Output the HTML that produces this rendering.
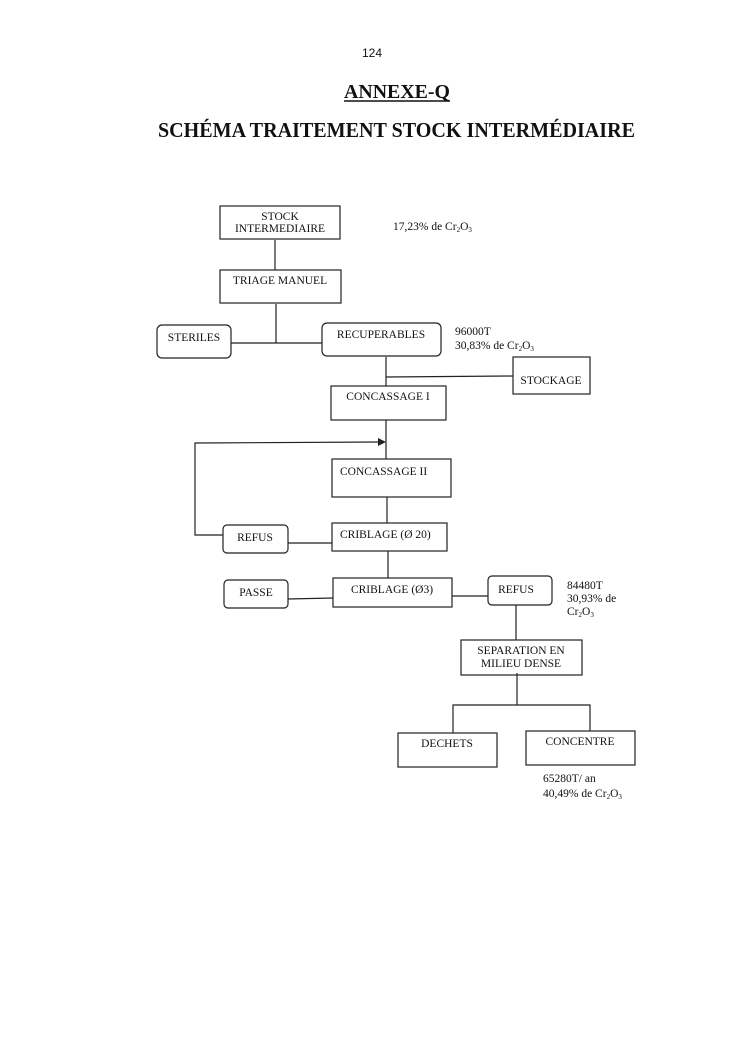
<!DOCTYPE html>
<html><head><meta charset="utf-8"><style>
html,body{margin:0;padding:0;background:#fff;}
svg{display:block;}
text{font-family:"Liberation Serif",serif;fill:#111;}
</style></head><body>
<svg width="745" height="1053" viewBox="0 0 745 1053" xmlns="http://www.w3.org/2000/svg">
<text x="372" y="57" font-family="Liberation Sans" style="font-family:'Liberation Sans',sans-serif" font-size="12" text-anchor="middle">124</text>
<text x="344" y="98" font-size="20" font-weight="bold" textLength="106" lengthAdjust="spacingAndGlyphs">ANNEXE-Q</text>
<line x1="344" y1="101" x2="450" y2="101" stroke="#111" stroke-width="1.5"/>
<text x="158" y="137" font-size="21.5" font-weight="bold" textLength="477" lengthAdjust="spacingAndGlyphs">SCHÉMA TRAITEMENT STOCK INTERMÉDIAIRE</text>

<g fill="none" stroke="#222" stroke-width="1.2">
<rect x="220" y="206" width="120" height="33"/>
<line x1="275" y1="240" x2="275" y2="270"/>
<rect x="220" y="270" width="121" height="33"/>
<line x1="276" y1="304" x2="276" y2="343"/>
<rect x="157" y="325" width="74" height="33" rx="5"/>
<line x1="231" y1="343" x2="322" y2="343"/>
<rect x="322" y="323" width="119" height="33" rx="5"/>
<line x1="386" y1="357" x2="386" y2="386"/>
<line x1="386" y1="377" x2="513" y2="376"/>
<rect x="513" y="357" width="77" height="37"/>
<rect x="331" y="386" width="115" height="34"/>
<line x1="386" y1="420" x2="386" y2="459"/>
<polyline points="380,442 195,443 195,535 223,535"/>
<rect x="332" y="459" width="119" height="38"/>
<line x1="387" y1="497" x2="387" y2="523"/>
<rect x="332" y="523" width="115" height="28"/>
<rect x="223" y="525" width="65" height="28" rx="4"/>
<line x1="288" y1="543" x2="332" y2="543"/>
<line x1="388" y1="551" x2="388" y2="578"/>
<rect x="333" y="578" width="119" height="29"/>
<rect x="224" y="580" width="64" height="28" rx="4"/>
<line x1="288" y1="599" x2="333" y2="598"/>
<line x1="452" y1="596" x2="488" y2="596"/>
<rect x="488" y="576" width="64" height="29" rx="4"/>
<line x1="516" y1="605" x2="516" y2="640"/>
<rect x="461" y="640" width="121" height="35"/>
<line x1="517" y1="673" x2="517" y2="705"/>
<polyline points="453,733 453,705 590,705 590,731"/>
<rect x="398" y="733" width="99" height="34"/>
<rect x="526" y="731" width="109" height="34"/>
</g>
<polygon points="378,438 386,442 378,446" fill="#222"/>

<g font-size="11.5">
<text x="280" y="220" text-anchor="middle">STOCK</text>
<text x="280" y="232" text-anchor="middle">INTERMEDIAIRE</text>
<text x="393" y="230">17,23% de Cr<tspan font-size="7" dy="2">2</tspan><tspan dy="-2">O</tspan><tspan font-size="7" dy="2">3</tspan></text>
<text x="280" y="284" text-anchor="middle">TRIAGE  MANUEL</text>
<text x="194" y="341" text-anchor="middle">STERILES</text>
<text x="381" y="338" text-anchor="middle">RECUPERABLES</text>
<text x="455" y="335">96000T</text>
<text x="455" y="349">30,83% de Cr<tspan font-size="7" dy="2">2</tspan><tspan dy="-2">O</tspan><tspan font-size="7" dy="2">3</tspan></text>
<text x="551" y="384" text-anchor="middle">STOCKAGE</text>
<text x="388" y="400" text-anchor="middle">CONCASSAGE I</text>
<text x="340" y="475">CONCASSAGE II</text>
<text x="255" y="541" text-anchor="middle">REFUS</text>
<text x="340" y="538">CRIBLAGE (Ø 20)</text>
<text x="256" y="596" text-anchor="middle">PASSE</text>
<text x="392" y="593" text-anchor="middle">CRIBLAGE (Ø3)</text>
<text x="516" y="593" text-anchor="middle">REFUS</text>
<text x="567" y="589">84480T</text>
<text x="567" y="602">30,93% de</text>
<text x="567" y="615">Cr<tspan font-size="7" dy="2">2</tspan><tspan dy="-2">O</tspan><tspan font-size="7" dy="2">3</tspan></text>
<text x="521" y="654" text-anchor="middle">SEPARATION  EN</text>
<text x="521" y="667" text-anchor="middle">MILIEU  DENSE</text>
<text x="447" y="747" text-anchor="middle">DECHETS</text>
<text x="580" y="745" text-anchor="middle">CONCENTRE</text>
<text x="543" y="782">65280T/ an</text>
<text x="543" y="797">40,49% de Cr<tspan font-size="7" dy="2">2</tspan><tspan dy="-2">O</tspan><tspan font-size="7" dy="2">3</tspan></text>
</g>
</svg>
</body></html>
